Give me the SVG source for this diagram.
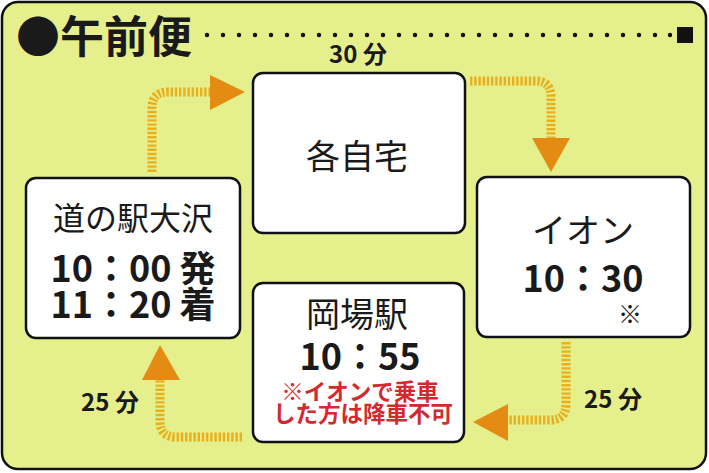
<svg xmlns="http://www.w3.org/2000/svg" width="709" height="473" viewBox="0 0 709 473">
<style>
.t{font-family:"Noto Sans CJK JP","Noto Sans",sans-serif;fill:#1a1a1a}
.b{font-weight:bold}
.box{fill:#fff;stroke:#111;stroke-width:2.5}
.stripe{fill:none;stroke:#e8b01e;stroke-width:9;stroke-dasharray:2.4 1.8}
.head{fill:#e38b12}
.red{fill:#d12a30}
</style>
<rect x="2" y="2" width="704" height="467" rx="16" fill="#e5ef8b" stroke="#111" stroke-width="2.5"/>
<g id="title">
<text class="t b" x="16" y="53" font-size="44">●午前便</text>
<g id="dots" fill="#111">
<circle cx="207" cy="35" r="2.2"/><circle cx="223" cy="35" r="2.2"/><circle cx="239" cy="35" r="2.2"/><circle cx="255" cy="35" r="2.2"/><circle cx="271" cy="35" r="2.2"/><circle cx="287" cy="35" r="2.2"/><circle cx="303" cy="35" r="2.2"/><circle cx="319" cy="35" r="2.2"/><circle cx="335" cy="35" r="2.2"/><circle cx="351" cy="35" r="2.2"/><circle cx="367" cy="35" r="2.2"/><circle cx="383" cy="35" r="2.2"/><circle cx="399" cy="35" r="2.2"/><circle cx="415" cy="35" r="2.2"/><circle cx="431" cy="35" r="2.2"/><circle cx="447" cy="35" r="2.2"/><circle cx="463" cy="35" r="2.2"/><circle cx="479" cy="35" r="2.2"/><circle cx="495" cy="35" r="2.2"/><circle cx="511" cy="35" r="2.2"/><circle cx="527" cy="35" r="2.2"/><circle cx="543" cy="35" r="2.2"/><circle cx="559" cy="35" r="2.2"/><circle cx="575" cy="35" r="2.2"/><circle cx="591" cy="35" r="2.2"/><circle cx="607" cy="35" r="2.2"/><circle cx="623" cy="35" r="2.2"/><circle cx="639" cy="35" r="2.2"/><circle cx="655" cy="35" r="2.2"/><circle cx="670" cy="35" r="2.2"/>
<rect x="677" y="27" width="16" height="16"/>
</g>
</g>
<g id="connectors">
<path class="stripe" d="M152 172 V108 Q152 92 168 92 H212"/>
<polygon class="head" points="210,75 245,92 210,110"/>
<path class="stripe" d="M470 81 H535 Q551 81 551 97 V140"/>
<polygon class="head" points="532,138 570,138 551,172"/>
<path class="stripe" d="M566 342 V404 Q566 420 550 420 H505"/>
<polygon class="head" points="508,404 508,441 473,422"/>
<path class="stripe" d="M242 437 H176 Q160 437 160 421 V378"/>
<polygon class="head" points="142,380 180,380 160,345"/>
<text class="t b" x="358" y="63" font-size="24" text-anchor="middle">30 分</text>
<text class="t b" x="613" y="408" font-size="24" text-anchor="middle">25 分</text>
<text class="t b" x="110" y="411" font-size="24" text-anchor="middle">25 分</text>
</g>
<g id="home">
<rect class="box" x="253" y="73" width="212" height="160" rx="10"/>
<text class="t" x="357" y="169" font-size="34" text-anchor="middle">各自宅</text>
</g>
<g id="michinoeki">
<rect class="box" x="26" y="178" width="214" height="160" rx="10"/>
<text class="t" x="133" y="230" font-size="32" text-anchor="middle">道の駅大沢</text>
<text class="t b" x="133" y="282" font-size="36" text-anchor="middle">10：00 発</text>
<text class="t b" x="133" y="318" font-size="36" text-anchor="middle">11：20 着</text>
</g>
<g id="aeon">
<rect class="box" x="477" y="177" width="213" height="160" rx="10"/>
<text class="t" x="583" y="243" font-size="34" text-anchor="middle">イオン</text>
<text class="t b" x="583" y="292" font-size="36" text-anchor="middle">10：30</text>
<text class="t" x="630" y="323" font-size="24" text-anchor="middle">※</text>
</g>
<g id="okaba">
<rect class="box" x="253" y="283" width="211" height="159" rx="10"/>
<text class="t" x="357" y="327" font-size="34" text-anchor="middle">岡場駅</text>
<text class="t b" x="360" y="370" font-size="36" text-anchor="middle">10：55</text>
<text class="t b red" x="360" y="400" font-size="22.5" text-anchor="middle">※イオンで乗車</text>
<text class="t b red" x="363" y="422" font-size="22.5" text-anchor="middle">した方は降車不可</text>
</g>
</svg>
